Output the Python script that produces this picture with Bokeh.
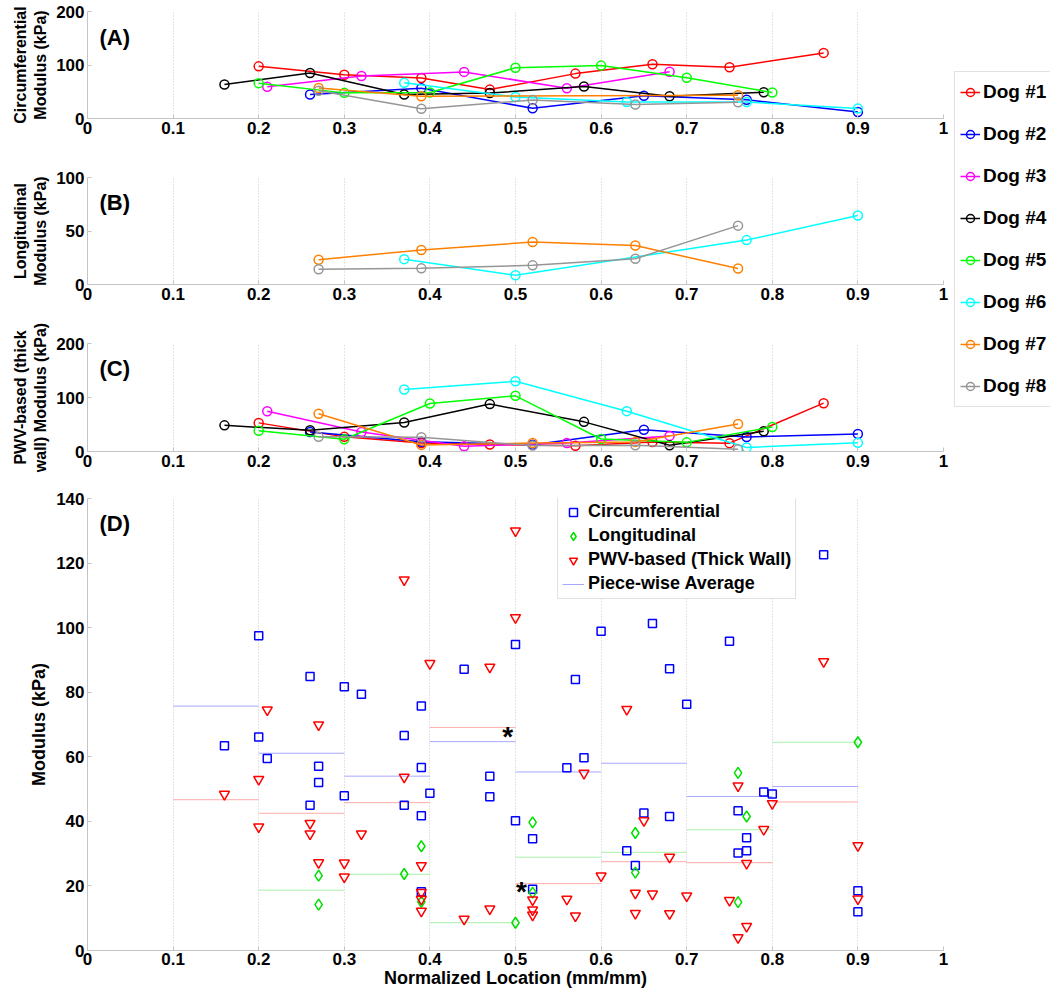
from bokeh.plotting import figure
from bokeh.layouts import column, row
from bokeh.models import (Range1d, FixedTicker, PrintfTickFormatter, Legend,
                          LegendItem, Label)
from bokeh.core.properties import value
from bokeh.embed import file_html
from bokeh.resources import INLINE

FONT = "Liberation Sans"

# ---------------- data ----------------
dogs = ["Dog #1", "Dog #2", "Dog #3", "Dog #4", "Dog #5", "Dog #6", "Dog #7", "Dog #8"]
dog_colors = ["#ff0000", "#0000ff", "#ff00ff", "#000000", "#00ff00", "#00ffff", "#ff8000", "#969696"]

locations = [
    [0.2, 0.3, 0.39, 0.47, 0.57, 0.66, 0.75, 0.86],
    [0.26, 0.39, 0.52, 0.65, 0.77, 0.9],
    [0.21, 0.32, 0.44, 0.56, 0.68],
    [0.16, 0.26, 0.37, 0.47, 0.58, 0.68, 0.79],
    [0.2, 0.3, 0.4, 0.5, 0.6, 0.7, 0.8],
    [0.37, 0.5, 0.63, 0.77, 0.9],
    [0.27, 0.39, 0.52, 0.64, 0.76],
    [0.27, 0.39, 0.52, 0.64, 0.76],
]
circumferential = [
    [97.5, 81.7, 75.7, 54.0, 83.9, 101.3, 95.8, 122.6],
    [45.0, 56.7, 19.0, 42.6, 34.9, 12.0],
    [59.5, 79.4, 87.1, 56.6, 87.3],
    [63.4, 84.9, 45.0, 47.6, 59.7, 41.5, 49.1],
    [66.1, 47.9, 48.7, 94.8, 98.9, 76.3, 48.5],
    [66.6, 40.2, 30.9, 30.9, 18.5],
    [57.1, 41.7, None, None, 43.3],
    [52.0, 18.2, 34.6, 26.3, 30.2],
]
longitudinal = [
    [None] * 8,
    [None] * 6,
    [None] * 5,
    [None] * 7,
    [None] * 7,
    [23.7, 8.6, None, 41.5, 64.5],
    [23.2, 32.3, 39.7, 36.4, 15.0],
    [14.2, 15.1, 17.9, 24.1, 55.0],
]
pwv_thick = [
    [53.0, 27.1, 15.9, 12.9, 10.7, 17.5, 15.5, 89.5],
    [36.1, 18.0, 12.6, 40.2, 27.0, 32.5],
    [74.5, 36.1, 9.7, 15.9, 28.9],
    [48.4, 39.4, 53.7, 87.8, 54.9, 11.4, 37.5],
    [38.3, 22.8, 88.9, 103.1, 23.1, 16.9, 45.5],
    [114.8, 130.0, 74.7, 7.5, 16.0],
    [69.9, 12.2, 15.7, 17.8, 51.0],
    [27.2, 26.3, 11.0, 11.5, 4.0],
]

# piece-wise averages (bins of 0.1)
bin_left = [0.1, 0.2, 0.3, 0.4, 0.5, 0.6, 0.7, 0.8]
bin_right = [0.2, 0.3, 0.4, 0.5, 0.6, 0.7, 0.8, 0.9]
avg_circ = [75.7, 61.1, 54.0, 64.7, 55.3, 58.0, 47.7, 50.8]
avg_long = [None, 18.7, 23.6, 8.6, 28.9, 30.4, 37.4, 64.5]
avg_pwv = [46.7, 42.5, 45.8, 69.1, 20.7, 27.5, 27.2, 46.0]

# significance markers
star_x = [0.491, 0.507]
star_y = [68.9, 20.6]

x_ticks = [0, 0.1, 0.2, 0.3, 0.4, 0.5, 0.6, 0.7, 0.8, 0.9, 1]
y_ticks_a = [0, 100, 200]
y_ticks_b = [0, 50, 100]
y_ticks_c = [0, 100, 200]
y_ticks_d = [0, 20, 40, 60, 80, 100, 120, 140]

panel_tags = ["(A)", "(B)", "(C)", "(D)"]
panel_tag_y = [152, 76.7, 154, 132.3]


def pairs(xs, ys):
    px = [x for x, y in zip(xs, ys) if y is not None]
    py = [y for y in ys if y is not None]
    return px, py


def make_fig(width, height, ymax, yticks, ylabel, top, bottom, right,
             ylabel_size="16px"):
    p = figure(width=width, height=height, x_range=Range1d(0, 1),
               y_range=Range1d(0, ymax), output_backend="svg",
               toolbar_location=None, tools="",
               min_border_left=87, min_border_right=right,
               min_border_top=top, min_border_bottom=bottom)
    p.outline_line_color = None
    p.background_fill_color = "white"
    p.xaxis.ticker = FixedTicker(ticks=x_ticks)
    p.xaxis.formatter = PrintfTickFormatter(format="%g")
    p.yaxis.ticker = FixedTicker(ticks=yticks)
    for ax in p.axis:
        ax.major_label_text_font = FONT
        ax.major_label_text_font_size = "17px"
        ax.major_label_text_font_style = "bold"
        ax.major_label_text_color = "black"
        ax.axis_label_text_font = FONT
        ax.axis_label_text_font_style = "bold"
        ax.axis_label_text_color = "black"
        ax.axis_line_color = "#c4c4c4"
        ax.major_tick_line_color = "#c4c4c4"
        ax.major_tick_in = 4
        ax.major_tick_out = 0
        ax.minor_tick_in = 0
        ax.minor_tick_out = 0
        ax.major_label_standoff = 3
        ax.axis_label_standoff = 4
    p.yaxis.axis_label = ylabel
    p.yaxis.axis_label_text_font_size = ylabel_size
    p.xgrid.grid_line_color = "#c8c8c8"
    p.xgrid.grid_line_dash = "1 2"
    p.ygrid.visible = False
    return p


def tag(p, i):
    p.add_layout(Label(x=0.014, y=panel_tag_y[i], text=panel_tags[i],
                       text_font=FONT, text_font_size="22px",
                       text_font_style="bold", text_baseline="middle",
                       text_align="left", text_color="black"))


def dog_panel(p, values):
    for i in range(len(dogs)):
        xs, ys = pairs(locations[i], values[i])
        if not xs:
            continue
        p.line(xs, ys, line_color=dog_colors[i], line_width=1.5)
        p.scatter(xs, ys, marker="circle", size=9, line_color=dog_colors[i],
                  fill_color=None, line_width=1.5)


pA = make_fig(950, 150, 200, y_ticks_a, "Circumferential\nModulus (kPa)", 11, 32, 7)
dog_panel(pA, circumferential)
tag(pA, 0)

pB = make_fig(950, 166, 100, y_ticks_b, "Longitudinal\nModulus (kPa)", 27, 32, 7)
dog_panel(pB, longitudinal)
tag(pB, 1)

pC = make_fig(950, 159, 200, y_ticks_c, "PWV-based (thick\nwall) Modulus (kPa)", 27, 24, 7)
dog_panel(pC, pwv_thick)
tag(pC, 2)

# legend of dogs (separate narrow figure to the right); its proxy glyphs sit
# outside the visible range so only the legend shows them
pL = figure(width=100, height=475, x_range=Range1d(0, 1), y_range=Range1d(0, 1),
            x_axis_type=None, y_axis_type=None, output_backend="svg",
            toolbar_location=None, tools="", min_border=0)
pL.outline_line_color = None
pL.xgrid.visible = False
pL.ygrid.visible = False
items = []
for i in range(len(dogs)):
    rl = pL.line(x=[5, 6], y=[5, 6], line_color=dog_colors[i], line_width=1.5)
    rc = pL.scatter(x=[5], y=[5], marker="circle", size=9, line_color=dog_colors[i],
                    fill_color=None, line_width=1.5)
    items.append(LegendItem(label=dogs[i], renderers=[rl, rc]))
leg = Legend(items=items, location=(4, 68), label_text_font=FONT,
             label_text_font_size="19px", label_text_font_style="bold",
             label_text_color="black",
             glyph_width=20, glyph_height=30, label_height=30, spacing=12,
             padding=5, label_standoff=3, border_line_color="#c4c4c4",
             border_line_width=1, background_fill_color="white", margin=0)
pL.add_layout(leg)

# panel D
pD = make_fig(1050, 517, 140, y_ticks_d, "Modulus (kPa)", 23, 42, 107,
              ylabel_size="18px")
pD.xaxis.axis_label = "Normalized Location (mm/mm)"
pD.xaxis.axis_label_text_font_size = "18px"
pD.xaxis.axis_label_standoff = 0
pD.xaxis.major_label_standoff = 2

r_avg_c = pD.segment(x0=bin_left, y0=avg_circ, x1=bin_right, y1=avg_circ,
                     line_color="#a8a8ff", line_width=1)
lx0, ly = pairs(bin_left, avg_long)
lx1, _ = pairs(bin_right, avg_long)
pD.segment(x0=lx0, y0=ly, x1=lx1, y1=ly, line_color="#a8f0a8", line_width=1)
pD.segment(x0=bin_left, y0=avg_pwv, x1=bin_right, y1=avg_pwv,
           line_color="#ffaaaa", line_width=1)

cx, cy, lxs, lys, px, py = [], [], [], [], [], []
for i in range(len(dogs)):
    a, b = pairs(locations[i], circumferential[i]); cx += a; cy += b
    a, b = pairs(locations[i], longitudinal[i]); lxs += a; lys += b
    a, b = pairs(locations[i], pwv_thick[i]); px += a; py += b

r_c = pD.scatter(cx, cy, marker="square", size=8, line_color="#0000ff",
                 fill_color=None, line_width=1.5)
r_l = pD.scatter(lxs, lys, marker="diamond", size=11, line_color="#00e000",
                 fill_color=None, line_width=1.5)
r_p = pD.scatter(px, py, marker="inverted_triangle", size=10, line_color="#ff0000",
                 fill_color=None, line_width=1.5)
pD.text(x=star_x, y=star_y, text=["*"] * len(star_x), text_font=value(FONT),
        text_font_size="28px", text_font_style="bold", text_align="center",
        text_baseline="middle", y_offset=8, text_color="black")
tag(pD, 3)

legD = Legend(items=[LegendItem(label="Circumferential", renderers=[r_c]),
                     LegendItem(label="Longitudinal", renderers=[r_l]),
                     LegendItem(label="PWV-based (Thick Wall)", renderers=[r_p]),
                     LegendItem(label="Piece-wise Average", renderers=[r_avg_c])],
              location=(470, 351), label_text_font=FONT, label_text_font_size="18px",
              label_text_font_style="bold", label_text_color="black",
              glyph_width=22, glyph_height=20,
              label_height=20, spacing=3, padding=4, label_standoff=4,
              border_line_color="#c4c4c4", border_line_width=1,
              background_fill_color="white", margin=0)
pD.add_layout(legD)

layout = column(row(column(pA, pB, pC), pL), pD)

open("out.html", "w").write(file_html(layout, INLINE))
